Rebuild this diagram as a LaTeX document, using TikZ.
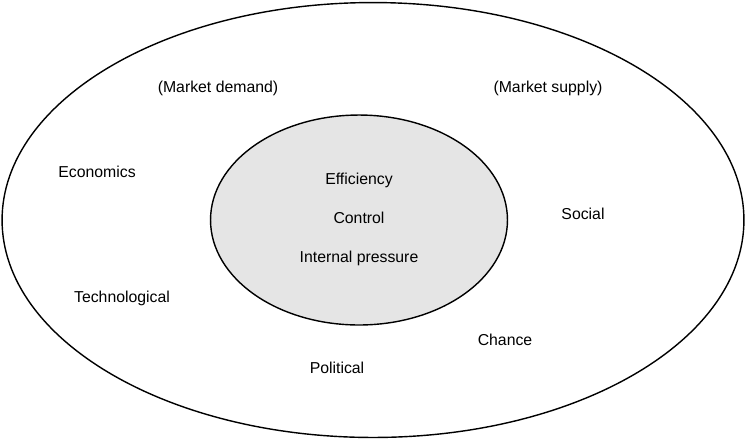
\documentclass[tikz,border=0pt]{standalone}
\usepackage{fontspec}
\setmainfont{Liberation Sans}
\usetikzlibrary{shapes.geometric}
\tikzset{
    ring/.style={ellipse, draw, thick, inner sep=0pt},
    factor/.style={font=\fontsize{9}{11}\selectfont, inner sep=1pt}
}
\begin{document}
\begin{tikzpicture}[x=0.02cm, y=-0.02cm]

    \useasboundingbox (0,0) rectangle (750,441);

    % Rings
    \node (outer) [ring, minimum width=742\pgflinewidth*0+14.84cm, minimum height=8.7cm] at (373,220) {};
    \node (inner) [ring, fill=black!10, minimum width=5.94cm, minimum height=4.2cm] at (359,220) {};

    % Inner factors
    \node (eff) [factor] at (359,180) {Efficiency};
    \node (ctl) [factor] at (359,218) {Control};
    \node (ip) [factor] at (359,258) {Internal pressure};

    % Outer factors
    \node (md) [factor] at (218,88) {(Market demand)};
    \node (ms) [factor] at (548,88) {(Market supply)};
    \node (eco) [factor] at (97,172) {Economics};
    \node (soc) [factor] at (583,214) {Social};
    \node (tec) [factor] at (122,298) {Technological};
    \node (cha) [factor] at (505,340) {Chance};
    \node (pol) [factor] at (337,368) {Political};

\end{tikzpicture}
\end{document}
